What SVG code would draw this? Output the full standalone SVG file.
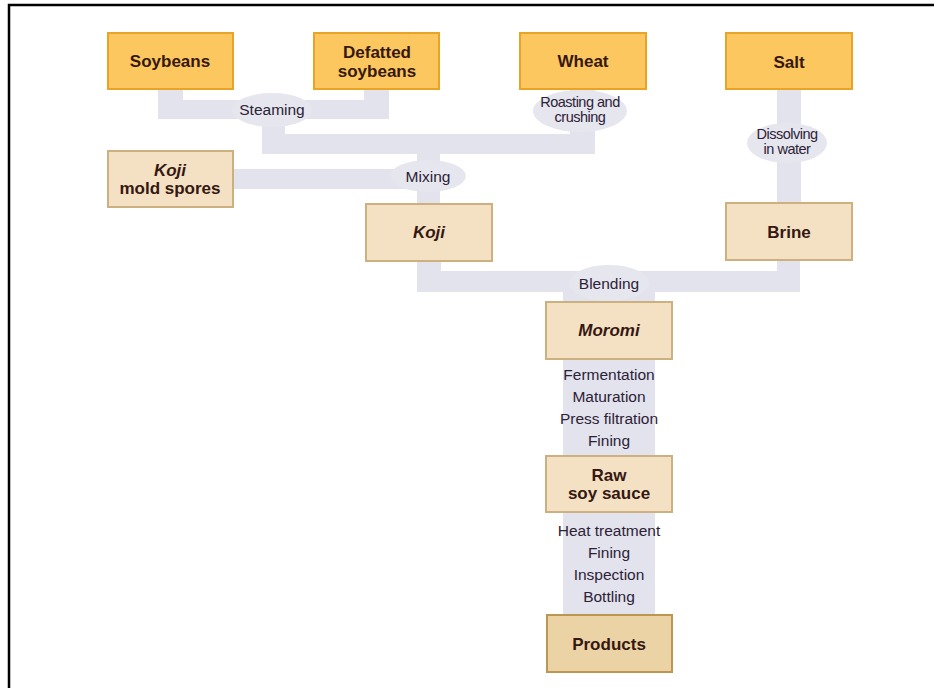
<svg xmlns="http://www.w3.org/2000/svg" width="934" height="688" viewBox="0 0 934 688">
<defs>
<style>
.band{fill:#e3e3ed}
.oval{fill:#e6e6ef}
.raw{fill:#fcc75e;stroke:#e9a326;stroke-width:2}
.mid{fill:#f4e1c3;stroke:#cdb07f;stroke-width:2}
.prod{fill:#ecd3a6;stroke:#bb9752;stroke-width:2}
.nt{font-family:"Liberation Sans",Arial,sans-serif;font-weight:bold;font-size:17px;fill:#351812;text-anchor:middle}
.it{font-style:italic}
.lb{font-family:"Liberation Sans",Arial,sans-serif;font-size:15.5px;fill:#2c2236;text-anchor:middle}
.lbc{font-family:"Liberation Sans",Arial,sans-serif;font-size:14.5px;fill:#2c2236;text-anchor:middle;letter-spacing:-0.5px}
</style>
</defs>
<rect x="0" y="0" width="934" height="688" fill="#ffffff"/>
<path d="M9,688 V5 H934" fill="none" stroke="#000" stroke-width="2.5"/>
<g id="connectors">
<rect class="band" x="158" y="89" width="25" height="30"/>
<rect class="band" x="364" y="89" width="25" height="30"/>
<rect class="band" x="158" y="100" width="231" height="19"/>
<rect class="band" x="262" y="110" width="23" height="44"/>
<rect class="band" x="262" y="134" width="333" height="20"/>
<rect class="band" x="570" y="89" width="25" height="65"/>
<rect class="band" x="417" y="134" width="23" height="70"/>
<rect class="band" x="233" y="169" width="195" height="20"/>
<rect class="band" x="777" y="89" width="24" height="114"/>
<rect class="band" x="417" y="261" width="24" height="31"/>
<rect class="band" x="777" y="260" width="23" height="32"/>
<rect class="band" x="417" y="271" width="383" height="21"/>
<rect class="band" x="563" y="280" width="92" height="335"/>
<ellipse class="oval" cx="272" cy="110" rx="40" ry="17"/>
<ellipse class="oval" cx="580" cy="111" rx="47" ry="21"/>
<ellipse class="oval" cx="428" cy="176" rx="38" ry="16"/>
<ellipse class="oval" cx="787" cy="143" rx="40" ry="20"/>
<ellipse class="oval" cx="609" cy="283" rx="40" ry="18"/>
<text class="lb" x="272" y="115">Steaming</text>
<text class="lbc" x="580" y="107">Roasting and</text>
<text class="lbc" x="580" y="122">crushing</text>
<text class="lb" x="428" y="182">Mixing</text>
<text class="lbc" x="787" y="139">Dissolving</text>
<text class="lbc" x="787" y="154">in water</text>
<text class="lb" x="609" y="289">Blending</text>
<text class="lb" x="609" y="380">Fermentation</text>
<text class="lb" x="609" y="402">Maturation</text>
<text class="lb" x="609" y="424">Press filtration</text>
<text class="lb" x="609" y="446">Fining</text>
<text class="lb" x="609" y="536">Heat treatment</text>
<text class="lb" x="609" y="558">Fining</text>
<text class="lb" x="609" y="580">Inspection</text>
<text class="lb" x="609" y="602">Bottling</text>
</g>
<g id="soybeans"><rect class="raw" x="108" y="33" width="125" height="56"/><text class="nt" x="170" y="67">Soybeans</text></g>
<g id="defatted"><rect class="raw" x="314" y="33" width="125" height="56"/><text class="nt" x="377" y="58">Defatted</text><text class="nt" x="377" y="77">soybeans</text></g>
<g id="wheat"><rect class="raw" x="520" y="33" width="126" height="56"/><text class="nt" x="583" y="67">Wheat</text></g>
<g id="salt"><rect class="raw" x="726" y="33" width="126" height="56"/><text class="nt" x="789" y="68">Salt</text></g>
<g id="kojispores"><rect class="mid" x="108" y="151" width="125" height="56"/><text class="nt it" x="170" y="176">Koji</text><text class="nt" x="170" y="194">mold spores</text></g>
<g id="koji"><rect class="mid" x="366" y="204" width="126" height="57"/><text class="nt it" x="429" y="238">Koji</text></g>
<g id="brine"><rect class="mid" x="726" y="203" width="126" height="57"/><text class="nt" x="789" y="238">Brine</text></g>
<g id="moromi"><rect class="mid" x="546" y="302" width="126" height="57"/><text class="nt it" x="609" y="336">Moromi</text></g>
<g id="rawsoy"><rect class="mid" x="546" y="456" width="126" height="56"/><text class="nt" x="609" y="481">Raw</text><text class="nt" x="609" y="499">soy sauce</text></g>
<g id="products"><rect class="prod" x="547" y="615" width="125" height="57"/><text class="nt" x="609" y="650">Products</text></g>
</svg>
